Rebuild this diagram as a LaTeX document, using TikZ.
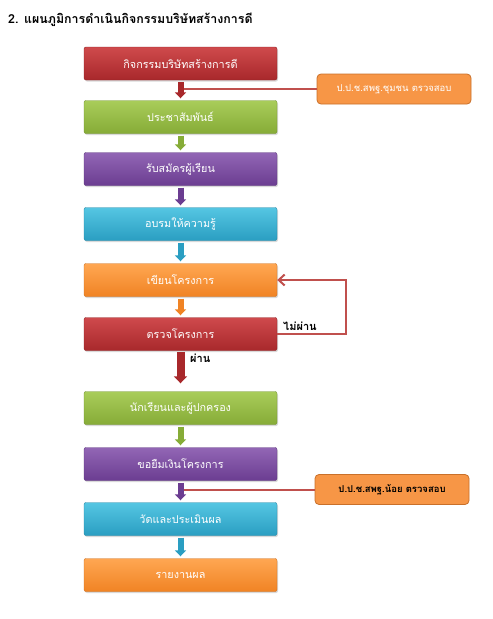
\documentclass[tikz,border=0pt]{standalone}
\usepackage{fontspec}
\newfontfamily\thai[Script=Thai]{Loma}
\usetikzlibrary{arrows.meta,shadows}
\definecolor{rT}{HTML}{CF4A4C}\definecolor{rB}{HTML}{A8282B}
\definecolor{gT}{HTML}{A9CC5A}\definecolor{gB}{HTML}{86AC37}
\definecolor{pT}{HTML}{9266B5}\definecolor{pB}{HTML}{6B3D91}
\definecolor{cT}{HTML}{55C6E2}\definecolor{cB}{HTML}{2A9EC2}
\definecolor{oT}{HTML}{FFA752}\definecolor{oB}{HTML}{F08324}
\definecolor{oF}{HTML}{F79646}\definecolor{oD}{HTML}{C9702A}
\definecolor{lineR}{HTML}{C0504D}
\tikzset{
  x=1pt,y=-1pt,
  box/.style n args={2}{rounded corners=2pt, minimum width=193pt, minimum height=33pt,
    top color=#1, bottom color=#2, draw=#2!85!black, line width=0.4pt, text=white,
    font=\thai\fontsize{10.8}{12}\selectfont, drop shadow={shadow xshift=1pt,shadow yshift=-1.5pt,opacity=0.3}},
  side/.style={rounded corners=4pt, minimum width=154pt, minimum height=30pt,
    fill=oF, draw=oD, line width=0.8pt, font=\thai\fontsize{9.5}{11}\selectfont},
  blk/.style={line width=6pt, draw=#1, -{Triangle[width=11pt,length=6pt]}, shorten >=2pt, shorten <=2pt},
  thin/.style={draw=lineR, line width=2pt},
  lbl/.style={font=\thai\bfseries\fontsize{11}{12}\selectfont, text=black, inner sep=0pt},
}
\begin{document}
\begin{tikzpicture}
\useasboundingbox (0,0) rectangle (493,619);
\node[anchor=west, font=\thai\bfseries\fontsize{12.4}{15}\selectfont, inner sep=0pt] (title) at (8,20) {2. แผนภูมิการดำเนินกิจกรรมบริษัทสร้างการดี};

\node[box={rT}{rB}] (b1) at (180.5,63.5) {กิจกรรมบริษัทสร้างการดี};
\node[box={gT}{gB}] (b2) at (180.5,117) {ประชาสัมพันธ์};
\node[box={pT}{pB}] (b3) at (180.5,169) {รับสมัครผู้เรียน};
\node[box={cT}{cB}] (b4) at (180.5,224) {อบรมให้ความรู้};
\node[box={oT}{oB}] (b5) at (180.5,280) {เขียนโครงการ};
\node[box={rT}{rB}] (b6) at (180.5,334) {ตรวจโครงการ};
\node[box={gT}{gB}] (b7) at (180.5,408) {นักเรียนและผู้ปกครอง};
\node[box={pT}{pB}] (b8) at (180.5,464) {ขอยืมเงินโครงการ};
\node[box={cT}{cB}] (b9) at (180.5,519) {วัดและประเมินผล};
\node[box={oT}{oB}] (b10) at (180.5,575) {รายงานผล};

\node[side, text=white] (s1) at (394,89) {ป.ป.ช.สพฐ.ชุมชน ตรวจสอบ};
\node[side, text=black, font=\thai\bfseries\fontsize{9.5}{11}\selectfont] (s2) at (392,489.5) {ป.ป.ช.สพฐ.น้อย ตรวจสอบ};

\draw[thin] (s1.west) -- (b1.south |- s1.west);
\draw[thin] (s2.west) -- (b8.south |- s2.west);

\draw[blk=rB] (b1.south) -- (b2.north);
\draw[blk=gB] (b2.south) -- (b3.north);
\draw[blk=pB] (b3.south) -- (b4.north);
\draw[blk=cB] (b4.south) -- (b5.north);
\draw[blk=oB] (b5.south) -- (b6.north);
\draw[line width=8pt, draw=rB, -{Triangle[width=13pt,length=7pt]}, shorten <=1pt, shorten >=8pt] (b6.south) -- (b7.north);
\draw[blk=gB] (b7.south) -- (b8.north);
\draw[blk=pB] (b8.south) -- (b9.north);
\draw[blk=cB] (b9.south) -- (b10.north);

\coordinate (fr) at (346,0);
\draw[thin, -{Straight Barb[length=6pt,width=11pt,line width=2pt]}] (b6.east) -- (fr |- b6.east) -- (fr |- b5.east) -- (b5.east);

\node[lbl, anchor=west] (no) at (283,326) {ไม่ผ่าน};
\node[lbl, anchor=west] (yes) at (190,358) {ผ่าน};
\end{tikzpicture}
\end{document}
